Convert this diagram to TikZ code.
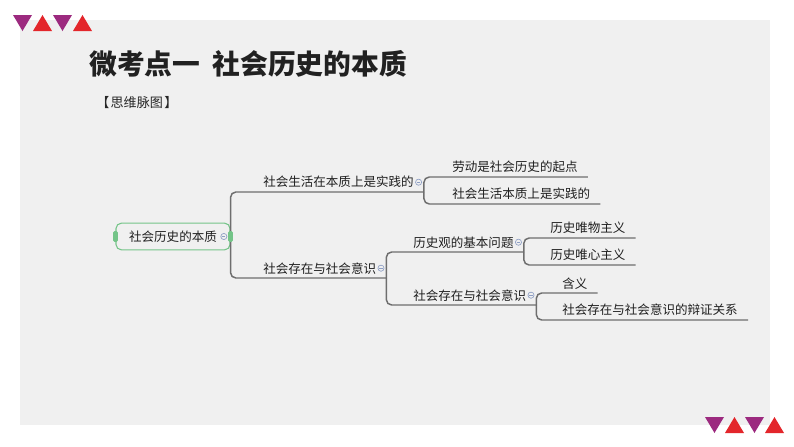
\documentclass[tikz,border=0pt]{standalone}
\usepackage{fontspec}
\setmainfont{Noto Sans CJK SC}
\definecolor{panel}{HTML}{F0F0F0}
\definecolor{purp}{HTML}{9C2A7F}
\definecolor{redd}{HTML}{E3262B}
\definecolor{linkgray}{HTML}{6E6E6E}
\definecolor{rootgreen}{HTML}{74C488}
\definecolor{foldblue}{HTML}{8E9FC4}
\tikzset{
  topic/.style={anchor=south west, inner xsep=7.5pt, inner ysep=2.8pt,
    font=\fontsize{9.4}{11}\selectfont, text=black!88},
  link/.style={draw=linkgray, line width=1.1pt, rounded corners=4pt},
  fold/.style={circle, draw=foldblue, line width=0.5pt, inner sep=0pt, minimum size=4.6pt,
    path picture={\draw[foldblue, line width=0.5pt]
      ([xshift=-1.2pt]path picture bounding box.center) -- ([xshift=1.2pt]path picture bounding box.center);}},
  tab/.style={rectangle, rounded corners=1pt, fill=rootgreen, inner sep=0pt,
    minimum width=3.5pt, minimum height=8pt}
}
\begin{document}
\begin{tikzpicture}[x=0.75pt, y=-0.75pt]
\useasboundingbox (0,0) rectangle (794,447);
\fill[panel] (20,20) rectangle (770,425);

% triangles
\foreach \ox/\oy in {13/15, 705/417}{
  \fill[purp] (\ox,\oy) -- ++(19,0) -- ++(-9.5,16) -- cycle;
  \fill[redd] (\ox+20,\oy+16) -- ++(19,0) -- ++(-9.5,-16) -- cycle;
  \fill[purp] (\ox+40,\oy) -- ++(19,0) -- ++(-9.5,16) -- cycle;
  \fill[redd] (\ox+60,\oy+16) -- ++(19,0) -- ++(-9.5,-16) -- cycle;
}

\node[anchor=west, inner sep=0, font=\fontsize{20.8}{24}\selectfont\bfseries, text=black!87] (title) at (89,64) {微考点一\hspace{0.45em}社会历史的本质};
\node[anchor=west, inner sep=0, font=\fontsize{9.8}{11}\selectfont, text=black!85] (sub) at (96,103) {【\hspace{1pt}思维脉图\hspace{1pt}】};

% mind map
\node[draw=rootgreen, line width=0.8pt, rounded corners=4pt, fill=panel, minimum width=85.5pt,
  minimum height=20pt, inner sep=0pt, font=\fontsize{9.4}{11}\selectfont, text=black!88] (root) at (173,236.5) {社会历史的本质\hspace{6pt}};

\node[topic] (life) at (253,192) {社会生活在本质上是实践的};
\node[topic] (exist) at (253,278) {社会存在与社会意识};
\node[topic] (labour) at (442,177) {劳动是社会历史的起点};
\node[topic] (practice) at (442,204) {社会生活本质上是实践的};
\node[topic] (basic) at (403,252) {历史观的基本问题};
\node[topic] (relation) at (403,305) {社会存在与社会意识};
\node[topic] (material) at (540,238) {历史唯物主义};
\node[topic] (ideal) at (540,265) {历史唯心主义};
\node[topic] (meaning) at (552,293) {含义};
\node[topic] (dialectic) at (552,320) {社会存在与社会意识的辩证关系};

\draw[link] (root.east) |- (life.south east);
\draw[link] (root.east) |- (exist.south east);
\draw[link] (life.south east) |- (labour.south east);
\draw[link] (life.south east) |- (practice.south east);
\draw[link] (exist.south east) |- (basic.south east);
\draw[link] (exist.south east) |- (relation.south east);
\draw[link] (basic.south east) |- (material.south east);
\draw[link] (basic.south east) |- (ideal.south east);
\draw[link] (relation.south east) |- (meaning.south east);
\draw[link] (relation.south east) |- (dialectic.south east);

\node[tab] at (root.west) {};
\node[tab] at (root.east) {};
\node[fold] at ([xshift=-5pt]root.east) {};
\node[fold] at ([xshift=-4pt]life.east) {};
\node[fold] at ([xshift=-4pt]exist.east) {};
\node[fold] at ([xshift=-4pt]basic.east) {};
\node[fold] at ([xshift=-4pt]relation.east) {};

\end{tikzpicture}
\end{document}
